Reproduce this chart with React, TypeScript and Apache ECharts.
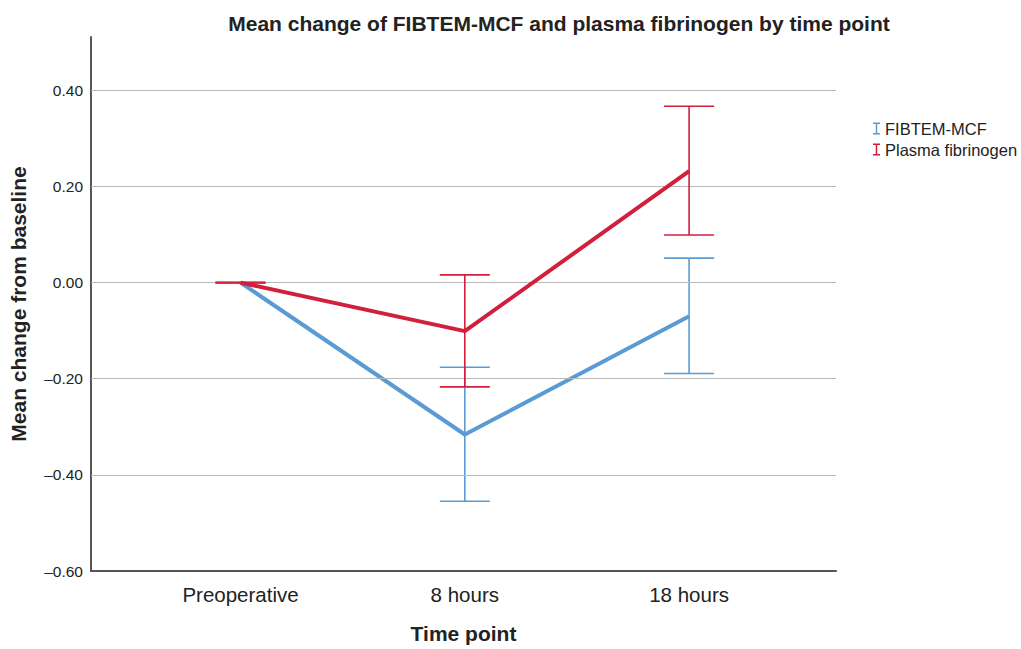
import React, { useEffect, useRef } from "react";
import * as echarts from "echarts";

const categories = ["Preoperative", "8 hours", "18 hours"];
const fibtemMean = [0, -0.316, -0.07];
const fibtemLow = [0, -0.455, -0.189];
const fibtemHigh = [0, -0.176, 0.051];
const plasmaMean = [0, -0.101, 0.232];
const plasmaLow = [0, -0.217, 0.099];
const plasmaHigh = [0, 0.016, 0.367];
const gridValues = [-0.4, -0.2, 0, 0.2, 0.4];

const BLUE = "#5b9bd5";
const RED = "#d21f3c";
const FONT = "'Liberation Sans', Arial, sans-serif";
const ICON = "path://M0,0H7V1.5H4.25V10.5H7V12H0V10.5H2.75V1.5H0Z";

function errorSeries(name: string, low: number[], high: number[], color: string, z: number) {
  return {
    name,
    type: "custom",
    z,
    color,
    data: low.map((l, i) => [i, l, high[i]]),
    renderItem: (params: any, api: any) => {
      const x = api.value(0);
      const lo = api.coord([x, api.value(1)]);
      const hi = api.coord([x, api.value(2)]);
      const w = 25;
      const style = { stroke: color, lineWidth: 1.6 };
      return {
        type: "group",
        children: [
          { type: "line", shape: { x1: lo[0], y1: lo[1], x2: hi[0], y2: hi[1] }, style },
          { type: "line", shape: { x1: lo[0] - w, y1: lo[1], x2: lo[0] + w, y2: lo[1] }, style },
          { type: "line", shape: { x1: hi[0] - w, y1: hi[1], x2: hi[0] + w, y2: hi[1] }, style },
        ],
      };
    },
  };
}

export default function App() {
  const ref = useRef<HTMLDivElement>(null);
  useEffect(() => {
    const chart = echarts.init(ref.current!, null, { renderer: "svg" });
    chart.setOption({
      animation: false,
      backgroundColor: "#fff",
      title: {
        text: "Mean change of FIBTEM-MCF and plasma fibrinogen by time point",
        left: 554,
        textAlign: "center",
        top: 8,
        textStyle: { fontFamily: FONT, fontSize: 21, fontWeight: "bold", color: "#222" },
      },
      legend: {
        orient: "vertical",
        left: 868,
        top: 115,
        itemWidth: 7,
        itemHeight: 12,
        itemGap: 4,
        textStyle: { fontFamily: FONT, fontSize: 16.5, color: "#222" },
        data: [
          { name: "FIBTEM-MCF", icon: ICON },
          { name: "Plasma fibrinogen", icon: ICON },
        ],
      },
      grid: { left: 91, right: 185, top: 37, bottom: 74 },
      xAxis: {
        type: "value",
        min: -2 / 3,
        max: 2.655,
        interval: 1 / 3,
        splitLine: { show: false },
        axisTick: { show: false },
        axisLine: { onZero: false, lineStyle: { color: "#555", width: 2 } },
        axisLabel: {
          margin: 13,
          showMinLabel: false,
          showMaxLabel: false,
          hideOverlap: false,
          fontFamily: FONT,
          fontSize: 20.5,
          color: "#222",
          formatter: (v: number) => {
            const r = Math.round(v);
            return Math.abs(v - r) < 1e-3 && r >= 0 && r < categories.length ? categories[r] : "";
          },
        },
        name: "Time point",
        nameLocation: "middle",
        nameGap: 52,
        nameTextStyle: { fontFamily: FONT, fontSize: 21, fontWeight: "bold", color: "#222" },
      },
      yAxis: {
        type: "value",
        min: -0.6,
        max: 0.511,
        interval: 0.2,
        splitLine: { show: false },
        axisTick: { show: false },
        axisLine: { show: true, onZero: false, lineStyle: { color: "#555", width: 2 } },
        axisLabel: {
          margin: 8,
          fontFamily: FONT,
          fontSize: 15.5,
          color: "#222",
          formatter: (v: number) => {
            if (Math.abs(v * 5 - Math.round(v * 5)) > 1e-6) return "";
            const s = Math.abs(v).toFixed(2);
            return v < -1e-9 ? "\u2013" + s : s;
          },
        },
        name: "Mean change from baseline",
        nameLocation: "middle",
        nameGap: 62,
        nameTextStyle: { fontFamily: FONT, fontSize: 21, fontWeight: "bold", color: "#222" },
      },
      series: [
        {
          name: "gridlines",
          type: "line",
          data: [],
          silent: true,
          markLine: {
            symbol: "none",
            silent: true,
            label: { show: false },
            lineStyle: { color: "#b8b8b8", width: 1.2, type: "solid" },
            data: gridValues.map((v) => ({ yAxis: v })),
          },
        },
        {
          name: "FIBTEM-MCF",
          type: "line",
          z: 4,
          symbol: "none",
          color: BLUE,
          lineStyle: { width: 4, color: BLUE },
          data: fibtemMean.map((v, i) => [i, v]),
        },
        {
          name: "Plasma fibrinogen",
          type: "line",
          z: 5,
          symbol: "none",
          color: RED,
          lineStyle: { width: 4, color: RED },
          data: plasmaMean.map((v, i) => [i, v]),
        },
        errorSeries("FIBTEM-MCF", fibtemLow, fibtemHigh, BLUE, 3),
        errorSeries("Plasma fibrinogen", plasmaLow, plasmaHigh, RED, 6),
      ],
    });
    return () => chart.dispose();
  }, []);
  return <div ref={ref} style={{ width: 1021, height: 649, position: "absolute", left: 0, top: 0 }} />;
}
